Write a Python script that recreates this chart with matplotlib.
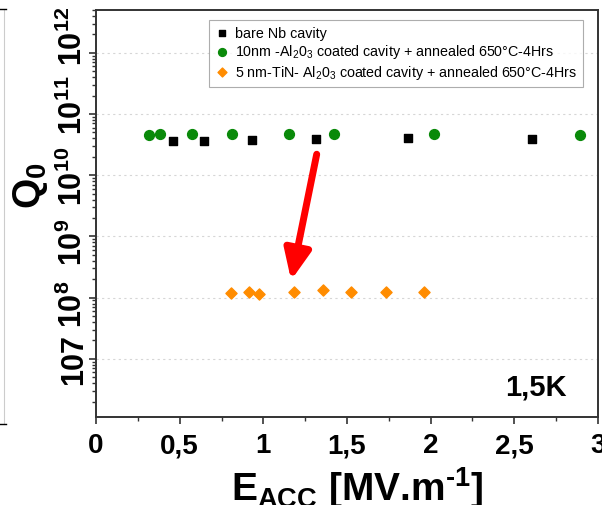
import numpy as np
import matplotlib
matplotlib.use("Agg")
from matplotlib import pyplot as plt
from matplotlib.lines import Line2D
from matplotlib.transforms import ScaledTranslation
from matplotlib.ticker import LogLocator, FixedLocator, FixedFormatter, NullFormatter

plt.rcParams['font.family'] = ['Liberation Sans', 'DejaVu Sans']
plt.rcParams['mathtext.default'] = 'regular'
plt.rcParams['mathtext.fontset'] = 'custom'
plt.rcParams['mathtext.rm'] = 'Liberation Sans:bold'

# Q0 vs Eacc at 1.5 K
e_bare = [0.462, 0.646, 0.934, 1.313, 1.863, 2.608]
q_bare = [3.57e10, 3.6e10, 3.8e10, 3.9e10, 4.0e10, 3.93e10]

e_al2o3 = [0.317, 0.383, 0.572, 0.811, 1.155, 1.424, 2.02, 2.893]
q_al2o3 = [4.5e10, 4.75e10, 4.75e10, 4.75e10, 4.75e10, 4.75e10, 4.75e10, 4.6e10]

e_tin = [0.807, 0.913, 0.976, 1.182, 1.355, 1.524, 1.732, 1.961]
q_tin = [1.21e8, 1.22e8, 1.13e8, 1.24e8, 1.35e8, 1.25e8, 1.22e8, 1.22e8]

labels = ['bare Nb cavity',
          '10nm -Al$_2$0$_3$ coated cavity + annealed 650°C-4Hrs',
          '5 nm-TiN- Al$_2$0$_3$ coated cavity + annealed 650°C-4Hrs']

x_ticks = [0, 0.5, 1, 1.5, 2, 2.5, 3]
x_ticklabels = ['0', '0,5', '1', '1,5', '2', '2,5', '3']
y_ticks = [1e7, 1e8, 1e9, 1e10, 1e11, 1e12]
y_ticklabels = ['107', '10$^8$', '10$^9$', '10$^{10}$', '10$^{11}$', '10$^{12}$']
# vertical nudge of each y label, in points (positive = up)
y_label_shift = [0, -4, -3.5, 0, 7, 12.5]

arrow_start = (1.319, 2.2e10)
arrow_end = (1.166, 1.92e8)

fig = plt.figure(figsize=(6.02, 5.06), dpi=100)
ax = fig.add_axes([96 / 602, 1 - 418 / 506, 502 / 602, 407 / 506])

ax.scatter(e_bare, q_bare, marker='s', s=36, color='black', zorder=3, label=labels[0])
ax.scatter(e_al2o3, q_al2o3, marker='o', s=50, color='#0a8a0a', zorder=3, label=labels[1])
ax.scatter(e_tin, q_tin, marker='D', s=32, color='#ff8c00', zorder=3, label=labels[2])

ax.annotate('', xy=arrow_end, xytext=arrow_start,
            arrowprops=dict(arrowstyle='-|>,head_length=1.8,head_width=0.8',
                            color='red', lw=5, shrinkA=0, shrinkB=0),
            zorder=4)

ax.set_yscale('log')
ax.set_xlim(0, 3)
ax.set_ylim(1.12e6, 5e12)

ax.xaxis.set_major_locator(FixedLocator(x_ticks))
ax.xaxis.set_major_formatter(FixedFormatter(x_ticklabels))
ax.xaxis.set_minor_locator(FixedLocator(np.arange(0.25, 3, 0.5)))
ax.yaxis.set_major_locator(FixedLocator(y_ticks))
ax.yaxis.set_major_formatter(FixedFormatter(y_ticklabels))
ax.yaxis.set_minor_locator(LogLocator(base=10, subs=np.arange(2, 10), numticks=20))
ax.yaxis.set_minor_formatter(NullFormatter())

ax.grid(axis='y', which='major', linestyle=(0, (2, 3)), color='#d6d6d6', lw=0.8)

ax.tick_params(axis='both', which='major', direction='out', length=5, width=1.2,
               color='#333333')
ax.tick_params(axis='both', which='minor', direction='out', length=3, width=1,
               color='#333333')
ax.tick_params(axis='x', pad=6, labelsize=20)
ax.tick_params(axis='y', labelrotation=90, pad=0, labelsize=22)

for lab in ax.get_xticklabels():
    lab.set_fontweight('bold')
for tick, dy in zip(ax.yaxis.get_major_ticks(), y_label_shift):
    lab = tick.label1
    lab.set_fontweight('bold')
    lab.set_va('center')
    lab.set_transform(lab.get_transform()
                      + ScaledTranslation(0, dy / 72, fig.dpi_scale_trans))

for sp in ax.spines.values():
    sp.set_linewidth(1.4)
    sp.set_color('#333333')

ax.set_xlabel(r'E$_{ACC}$ [MV.m$^{\text{-1}}$]', fontsize=28, fontweight='bold')
ax.set_ylabel('Q$_0$', fontsize=28, fontweight='bold')
ax.yaxis.set_label_coords(-0.092, 0.57)
ax.xaxis.set_label_coords(0.52, -0.115)

ax.text(0.876, 0.075, '1,5K', transform=ax.transAxes, fontsize=21,
        fontweight='bold', ha='center', va='center')

leg = ax.legend(loc='upper left', bbox_to_anchor=(0.225, 0.975), borderaxespad=0,
                fontsize=10.3, frameon=True, fancybox=False, handletextpad=0.4,
                handlelength=1.0, labelspacing=0.18, borderpad=0.4,
                markerscale=0.8)
leg.get_frame().set_edgecolor('#999999')
leg.get_frame().set_linewidth(0.8)

# edge of the neighbouring panel on the left
fig.add_artist(Line2D([4 / 602, 4 / 602], [1 - 10 / 506, 1 - 425 / 506],
                      color='#cccccc', lw=0.8))
fig.add_artist(Line2D([0, 6 / 602], [1 - 10 / 506, 1 - 10 / 506], color='black', lw=1))
fig.add_artist(Line2D([0, 6 / 602], [1 - 425 / 506, 1 - 425 / 506], color='black', lw=1))

fig.savefig('out.png', dpi=100)
